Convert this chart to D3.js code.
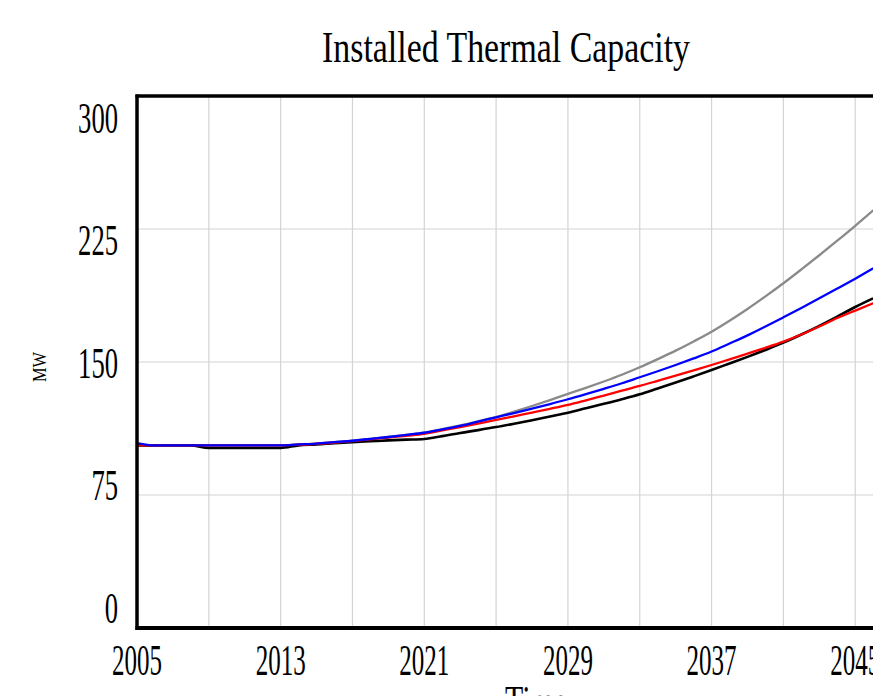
<!DOCTYPE html>
<html>
<head>
<meta charset="utf-8">
<script src="https://cdnjs.cloudflare.com/ajax/libs/d3/7.8.5/d3.min.js"></script>
<style>
  html, body { margin: 0; padding: 0; background: #fff; overflow: hidden; }
  svg { display: block; }
  text { font-family: "Liberation Serif", "Times New Roman", serif; fill: #000; }
</style>
</head>
<body>
<div id="chart"></div>
<script>
// values, one per year 2005..2046
var years = d3.range(2005, 2047);

var grayValues = [103, 103, 103, 103, 103, 103, 103, 103, 103, 103.5,
    104, 104.8, 105.6, 106.6, 107.7, 108.9, 110.2, 112.2, 114.3, 116.6,
    119, 122, 125.2, 128.5, 132, 135.4, 139, 142.8, 147, 151.6,
    156.4, 161.6, 167.1, 173.3, 179.9, 187, 194.4, 202.2, 210.2, 218.4,
    226.8, 235.5];

var blackValues = [103, 103, 103, 103, 101.5, 101.5, 101.5, 101.5, 101.5, 103,
    103.5, 104.2, 104.8, 105.3, 105.8, 106.2, 106.6, 108.2, 110, 111.6,
    113.3, 115.2, 117.2, 119.3, 121.4, 123.9, 126.4, 129, 131.8, 135.1,
    138.4, 141.9, 145.5, 149.2, 152.9, 156.8, 160.9, 165.5, 170.4, 175.6,
    181, 185.9];

var redValues = [103, 103, 103, 103, 103, 103, 103, 103, 103, 103.4,
    103.9, 104.6, 105.4, 106.4, 107.4, 108.4, 109.5, 111.4, 113.3, 115.3,
    117.3, 119.4, 121.5, 123.6, 125.8, 128.4, 131.1, 133.8, 136.5, 139.4,
    142.3, 145.3, 148.3, 151.5, 154.7, 158, 161.5, 165.5, 170, 174.8,
    179, 183.1];

var blueValues = [104.3, 103, 103, 103, 103, 103, 103, 103, 103, 103.5,
    104, 104.8, 105.6, 106.6, 107.7, 108.9, 110.1, 112, 114, 116.4,
    118.8, 121.2, 123.7, 126.3, 129, 131.9, 134.9, 138, 141.4, 144.8,
    148.3, 152, 155.9, 160.4, 165, 170, 175.2, 180.5, 185.9, 191.4,
    197, 202.8];

var yTicks = [0, 75, 150, 225, 300];
var xGridYears = d3.range(2009, 2050, 4);
var xLabelYears = [2005, 2013, 2021, 2029, 2037, 2045];

var series = [
    {name: "gray", values: grayValues, color: "#8a8a8a", width: 2.3},
    {name: "black", values: blackValues, color: "#000000", width: 2.6},
    {name: "red", values: redValues, color: "#ff0000", width: 2.3},
    {name: "blue", values: blueValues, color: "#0000ff", width: 2.3}
];

(function(){

var width = 873, height = 696;
var plotLeft = 137, plotTop = 96, plotBottom = 628, plotRight = 945;

var svg = d3.select("#chart").append("svg")
    .attr("width", width)
    .attr("height", height);

var x = d3.scaleLinear().domain([2005, 2050]).range([plotLeft, plotRight]);
var y = d3.scaleLinear().domain([0, 300]).range([plotBottom, plotTop]);
// tick labels sit spread a bit apart from their grid lines
var yLabel = d3.scaleLinear().domain([0, 300]).range([608, 118]);

// grid
svg.append("g").selectAll("line")
    .data(yTicks.filter(d => d > 0 && d < 300))
    .enter().append("line")
    .attr("x1", plotLeft).attr("x2", plotRight)
    .attr("y1", d => y(d)).attr("y2", d => y(d))
    .attr("stroke", "#d4d4d4").attr("stroke-width", 1.2);

svg.append("g").selectAll("line")
    .data(xGridYears)
    .enter().append("line")
    .attr("x1", d => x(d)).attr("x2", d => x(d))
    .attr("y1", plotTop).attr("y2", plotBottom + 2)
    .attr("stroke", "#d4d4d4").attr("stroke-width", 1.2);

// series
svg.append("defs").append("clipPath").attr("id", "plot")
    .append("rect").attr("x", plotLeft).attr("y", plotTop)
    .attr("width", plotRight - plotLeft).attr("height", plotBottom - plotTop);

var line = d3.line()
    .curve(d3.curveMonotoneX)
    .x((d, i) => x(years[i]))
    .y(d => y(d));

svg.append("g").attr("clip-path", "url(#plot)")
    .selectAll("path")
    .data(series)
    .enter().append("path")
    .attr("d", s => line(s.values))
    .attr("fill", "none")
    .attr("stroke", s => s.color)
    .attr("stroke-width", s => s.width)
    .attr("stroke-linejoin", "round");

// frame
svg.append("line").attr("x1", plotLeft).attr("x2", plotLeft)
    .attr("y1", plotTop - 1.5).attr("y2", plotBottom + 2)
    .attr("stroke", "#000").attr("stroke-width", 3.5);
svg.append("line").attr("x1", plotLeft - 1.5).attr("x2", plotRight)
    .attr("y1", plotTop).attr("y2", plotTop)
    .attr("stroke", "#000").attr("stroke-width", 3.5);
svg.append("line").attr("x1", plotLeft - 1.5).attr("x2", plotRight)
    .attr("y1", plotBottom).attr("y2", plotBottom)
    .attr("stroke", "#000").attr("stroke-width", 4);

// y tick labels
svg.append("g").selectAll("text")
    .data(yTicks)
    .enter().append("text")
    .attr("x", d => 118 - String(d).length * 13.3)
    .attr("y", d => yLabel(d) + 14.5)
    .attr("font-size", 44)
    .attr("textLength", d => String(d).length * 13.3)
    .attr("lengthAdjust", "spacingAndGlyphs")
    .text(d => d);

// x tick labels
svg.append("g").selectAll("text")
    .data(xLabelYears)
    .enter().append("text")
    .attr("x", d => x(d) - 25)
    .attr("y", 675)
    .attr("font-size", 44)
    .attr("textLength", 50)
    .attr("lengthAdjust", "spacingAndGlyphs")
    .text(d => d);

// title
svg.append("text")
    .attr("x", 322).attr("y", 62)
    .attr("font-size", 44)
    .attr("textLength", 368)
    .attr("lengthAdjust", "spacingAndGlyphs")
    .text("Installed Thermal Capacity");

// axis titles
svg.append("text")
    .attr("transform", "translate(46,382) rotate(-90)")
    .attr("font-size", 19)
    .attr("textLength", 30)
    .attr("lengthAdjust", "spacingAndGlyphs")
    .text("MW");

svg.append("text")
    .attr("x", 505).attr("y", 716)
    .attr("font-size", 44)
    .attr("textLength", 62)
    .attr("lengthAdjust", "spacingAndGlyphs")
    .text("Time");

})();
</script>
</body>
</html>
